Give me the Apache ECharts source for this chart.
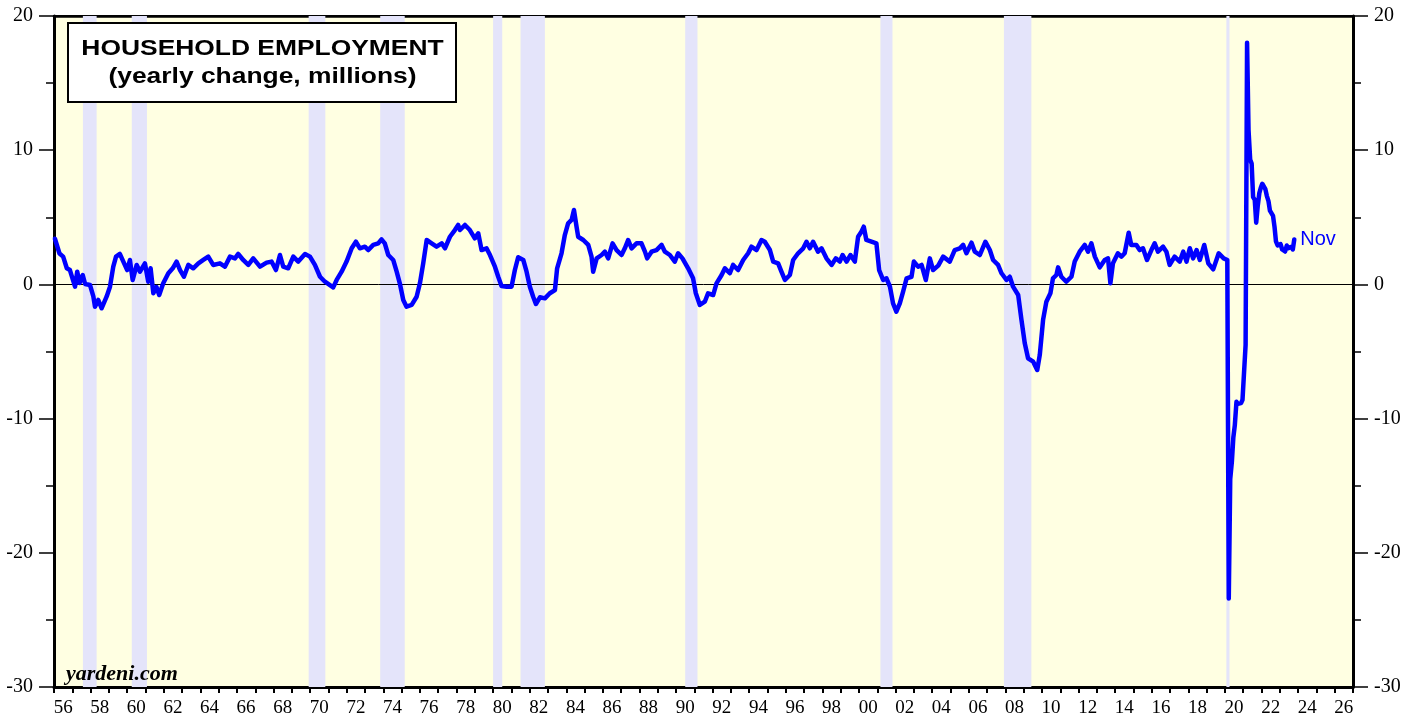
<!DOCTYPE html>
<html>
<head>
<meta charset="utf-8">
<script src="https://cdn.jsdelivr.net/npm/echarts@6/dist/echarts.min.js"></script>
<style>
html,body{margin:0;padding:0;background:#fff;}
#chart{width:1416px;height:719px;}
</style>
</head>
<body>
<div id="chart"></div>
<script>
// Household employment, yearly change (millions); x = decimal year
const dates = [
1956.05,1956.3,1956.5,1956.7,1956.87,1957.15,1957.27,1957.4,1957.57,1957.7,1957.97,
1958.15,1958.24,1958.42,1958.6,1958.88,1959.06,1959.24,1959.39,1959.6,1959.79,
1960.0,1960.15,1960.3,1960.52,1960.7,1960.97,1961.15,1961.28,1961.43,1961.6,1961.75,1961.97,
1962.25,1962.49,1962.7,1962.89,1963.1,1963.34,1963.61,1963.89,1964.16,1964.43,1964.7,
1965.07,1965.34,1965.62,1965.89,1966.07,1966.34,1966.62,1966.89,1967.26,1967.62,1967.89,
1968.13,1968.35,1968.53,1968.8,1969.08,1969.35,1969.72,1969.99,1970.26,1970.54,1970.81,
1971.08,1971.26,1971.45,1971.72,1971.99,1972.27,1972.5,1972.72,1972.99,1973.17,1973.45,1973.72,1973.9,
1974.08,1974.27,1974.54,1974.73,1974.9,1975.09,1975.27,1975.55,1975.82,1976.0,1976.18,1976.37,1976.64,1976.91,
1977.19,1977.37,1977.64,1977.91,1978.09,1978.19,1978.46,1978.73,1979.0,1979.19,1979.37,1979.64,1979.83,
1980.1,1980.28,1980.46,1980.74,1981.01,1981.19,1981.37,1981.65,1981.83,1982.01,1982.19,1982.34,1982.56,1982.83,
1983.1,1983.38,1983.5,1983.74,1983.92,1984.1,1984.29,1984.42,1984.56,1984.65,1984.93,1985.2,1985.38,1985.47,1985.66,1985.93,
1986.11,1986.29,1986.53,1986.75,1987.02,1987.2,1987.38,1987.57,1987.84,1988.11,1988.3,1988.42,1988.66,1988.93,
1989.21,1989.39,1989.66,1989.93,1990.11,1990.35,1990.66,1990.93,1991.08,1991.3,1991.57,1991.75,
1992.03,1992.21,1992.49,1992.67,1992.94,1993.12,1993.39,1993.67,1993.94,1994.12,1994.4,1994.67,1994.85,
1995.13,1995.31,1995.58,1995.76,1995.95,1996.22,1996.4,1996.67,1996.95,1997.13,1997.31,1997.49,1997.76,1997.95,
1998.22,1998.5,1998.73,1998.95,1999.1,1999.32,1999.53,1999.77,1999.95,2000.13,2000.26,2000.4,2000.68,2000.95,
2001.1,2001.32,2001.5,2001.69,2001.86,2002.04,2002.23,2002.41,2002.6,2002.87,2003.0,2003.23,2003.42,2003.65,2003.87,
2004.05,2004.33,2004.6,2004.96,2005.23,2005.51,2005.69,2005.87,2006.15,2006.33,2006.6,2006.91,
2007.15,2007.33,2007.6,2007.79,2008.06,2008.24,2008.42,2008.7,2008.88,2009.06,2009.24,2009.52,2009.74,2009.88,
2010.06,2010.24,2010.46,2010.6,2010.79,2010.88,2011.06,2011.33,2011.61,2011.79,2012.06,2012.34,2012.52,2012.7,2012.89,
2013.16,2013.43,2013.61,2013.74,2013.88,2014.15,2014.34,2014.52,2014.74,2014.88,2015.16,2015.34,2015.52,2015.74,2015.98,
2016.16,2016.34,2016.62,2016.8,2016.98,2017.25,2017.53,2017.72,2017.9,2018.08,2018.26,2018.45,2018.63,2018.87,
2019.09,2019.36,2019.66,2019.93,2020.13,
2020.21,2020.29,2020.38,2020.46,2020.54,2020.63,2020.71,2020.79,2020.88,2020.96,2021.04,2021.13,
2021.21,2021.29,2021.38,2021.46,2021.54,2021.63,2021.71,2021.79,2021.88,2021.96,2022.04,2022.13,
2022.21,2022.29,2022.38,2022.46,2022.54,2022.63,2022.71,2022.79,2022.88,2022.96,2023.04,2023.13,
2023.21,2023.29,2023.38,2023.46,2023.54,2023.63,2023.71,2023.79
];
const changes = [
3.4,2.3,2.07,1.2,1.07,-0.17,0.95,0.1,0.7,0.03,-0.05,
-0.9,-1.66,-1.16,-1.78,-0.9,-0.17,1.32,2.07,2.27,1.7,
1.07,1.82,0.33,1.45,0.95,1.57,0.2,1.2,-0.66,-0.2,-0.79,0.08,
0.83,1.2,1.7,1.07,0.57,1.45,1.2,1.57,1.82,2.07,1.45,
1.57,1.32,2.07,1.94,2.27,1.82,1.45,1.94,1.32,1.62,1.7,
1.07,2.19,1.32,1.2,2.07,1.7,2.27,2.07,1.45,0.57,0.2,
-0.05,-0.22,0.33,0.95,1.7,2.69,3.18,2.69,2.81,2.56,2.94,3.06,3.36,
3.06,2.19,1.82,0.95,0.08,-1.16,-1.66,-1.53,-0.92,0.08,1.57,3.31,3.06,2.81,
3.06,2.69,3.55,4.05,4.43,4.05,4.43,4.05,3.43,3.8,2.56,2.69,2.19,
1.32,0.57,-0.12,-0.17,-0.17,1.07,2.02,1.82,0.95,-0.17,-0.92,-1.46,-0.96,-1.04,
-0.66,-0.42,1.2,2.32,3.68,4.55,4.8,5.54,4.3,3.55,3.31,2.94,2.07,0.95,1.94,2.19,
2.44,1.94,3.06,2.56,2.19,2.69,3.31,2.69,3.06,3.06,2.44,1.94,2.44,2.56,
2.94,2.44,2.19,1.7,2.32,1.94,1.2,0.45,-0.66,-1.53,-1.29,-0.66,
-0.79,0.08,0.7,1.2,0.83,1.45,1.07,1.82,2.32,2.81,2.56,3.31,3.18,
2.56,1.7,1.57,0.95,0.33,0.7,1.82,2.32,2.69,3.18,2.69,3.18,2.44,2.69,
1.94,1.45,1.94,1.7,2.19,1.7,2.19,1.7,3.55,3.93,4.3,3.31,3.18,3.06,
1.07,0.33,0.45,-0.17,-1.41,-2.03,-1.41,-0.54,0.45,0.57,1.7,1.32,1.45,0.33,1.94,
1.07,1.4,2.07,1.7,2.56,2.69,2.94,2.32,3.11,2.44,2.19,3.18,
2.56,1.82,1.45,0.83,0.33,0.57,-0.17,-0.79,-2.65,-4.39,-5.51,-5.76,-6.38,-5.26,
-2.65,-1.29,-0.66,0.45,0.7,1.27,0.57,0.2,0.57,1.7,2.44,2.94,2.44,3.06,2.07,
1.27,1.82,1.94,0.08,1.57,2.32,2.07,2.32,3.85,2.94,2.94,2.56,2.69,1.82,2.56,
3.06,2.44,2.81,2.44,1.45,2.07,1.7,2.44,1.7,2.69,1.94,2.56,1.82,2.94,
1.57,1.12,2.32,1.94,1.82,
-23.4,-14.5,-13.2,-11.4,-10.5,-8.75,-8.9,-8.9,-8.85,-8.6,-8.5,-4.5,
18.0,11.5,9.3,9.0,6.5,6.3,4.6,5.8,6.8,7.2,7.5,7.4,
7.1,6.6,6.2,5.5,5.4,5.1,4.3,3.2,2.9,2.8,3.0,2.6,
2.5,2.45,2.9,2.7,2.7,2.8,2.6,3.35
];
// NBER recessions (decimal years)
const recessionStart = [1957.58,1960.25,1969.92,1973.83,1980.0,1981.5,1990.5,2001.17,2007.92,2020.08];
const recessionEnd   = [1958.33,1961.08,1970.83,1975.17,1980.5,1982.83,1991.17,2001.83,2009.42,2020.25];
// x-axis year labels
const yearLabels = [];
for (let y = 1956; y <= 2026; y++) yearLabels.push(String(y % 100).padStart(2, '0'));
const yMin = -30, yMax = 20;
const xMin = 1956, xMax = 2027;
const lastLabel = 'Nov';
const titleLines = ['HOUSEHOLD EMPLOYMENT', '(yearly change, millions)'];
const sourceText = 'yardeni.com';

const chart = echarts.init(document.getElementById('chart'), null, {renderer: 'canvas'});
const serif = 'Liberation Serif';
const sans = 'Liberation Sans';

function yAxisDef(pos, interval, tickLen, showLine, showLabel) {
  return {
    type: 'value', position: pos, min: yMin, max: yMax, interval: interval,
    axisLine: {show: showLine, onZero: false, lineStyle: {color: '#000', width: 3}},
    axisTick: {show: true, length: tickLen, lineStyle: {color: '#000', width: 1.5}},
    axisLabel: {show: showLabel, margin: 21, fontFamily: serif, fontSize: 20, color: '#000'},
    splitLine: {show: false}
  };
}

const option = {
  animation: false,
  backgroundColor: '#fff',
  grid: {left: 54, right: 63, top: 16, bottom: 32, show: true, backgroundColor: '#FFFFE2', borderColor: '#000', borderWidth: 2},
  xAxis: [
    {
      type: 'category', data: yearLabels, boundaryGap: true, position: 'bottom',
      axisLine: {show: true, onZero: false, lineStyle: {color: '#000', width: 3}},
      axisTick: {show: true, interval: 0, length: 6, lineStyle: {color: '#000', width: 2}},
      axisLabel: {interval: 1, margin: 12, fontFamily: serif, fontSize: 19, color: '#000'},
      splitLine: {show: false}
    },
    {type: 'value', min: xMin, max: xMax, show: false},
    {
      type: 'value', min: xMin, max: xMax, position: 'top',
      axisLine: {show: true, onZero: false, lineStyle: {color: '#000', width: 2.5}},
      axisTick: {show: false}, axisLabel: {show: false}, splitLine: {show: false}
    }
  ],
  yAxis: [
    yAxisDef('left', 10, 15, true, true),
    yAxisDef('left', 5, 8, false, false),
    yAxisDef('right', 10, 15, true, true),
    yAxisDef('right', 5, 8, false, false)
  ],
  series: [
    {
      type: 'custom', xAxisIndex: 1, yAxisIndex: 0, z: 1, silent: true,
      data: recessionStart.map((s, i) => [s, recessionEnd[i]]),
      encode: {x: [0, 1]},
      renderItem: function (params, api) {
        const p0 = api.coord([api.value(0), yMax]);
        const p1 = api.coord([api.value(1), yMin]);
        return {type: 'rect', shape: {x: p0[0], y: p0[1], width: p1[0] - p0[0], height: p1[1] - p0[1]}, style: {fill: '#E4E4FA'}};
      },
      markLine: {
        silent: true, symbol: 'none', label: {show: false},
        lineStyle: {color: '#000', width: 1, type: 'solid'},
        data: [{yAxis: 0}]
      }
    },
    {
      type: 'line', xAxisIndex: 1, yAxisIndex: 0, z: 5,
      data: dates.map((d, i) => [d, changes[i]]),
      showSymbol: false, smooth: false,
      lineStyle: {color: '#0000FF', width: 4.5, join: 'round', cap: 'round'},
      endLabel: {show: true, formatter: lastLabel, color: '#0000FF', fontFamily: sans, fontSize: 20, distance: 6}
    }
  ],
  graphic: [
    {type: 'rect', z: 100, shape: {x: 68, y: 23, width: 388, height: 79}, style: {fill: '#fff', stroke: '#000', lineWidth: 2}},
    {type: 'text', z: 101, x: 262.5, y: 49.4, scaleX: 1.2,
      style: {text: titleLines[0], x: 0, y: 0, textAlign: 'center', textVerticalAlign: 'middle', font: 'bold 22px "Liberation Sans"', fill: '#000'}},
    {type: 'text', z: 101, x: 262.5, y: 76.6, scaleX: 1.2,
      style: {text: titleLines[1], x: 0, y: 0, textAlign: 'center', textVerticalAlign: 'middle', font: 'bold 22px "Liberation Sans"', fill: '#000'}},
    {type: 'text', z: 100, style: {text: sourceText, x: 66, y: 674, textVerticalAlign: 'middle', font: 'italic bold 22px "Liberation Serif"', fill: '#000'}}
  ]
};
chart.setOption(option);
</script>
</body>
</html>
